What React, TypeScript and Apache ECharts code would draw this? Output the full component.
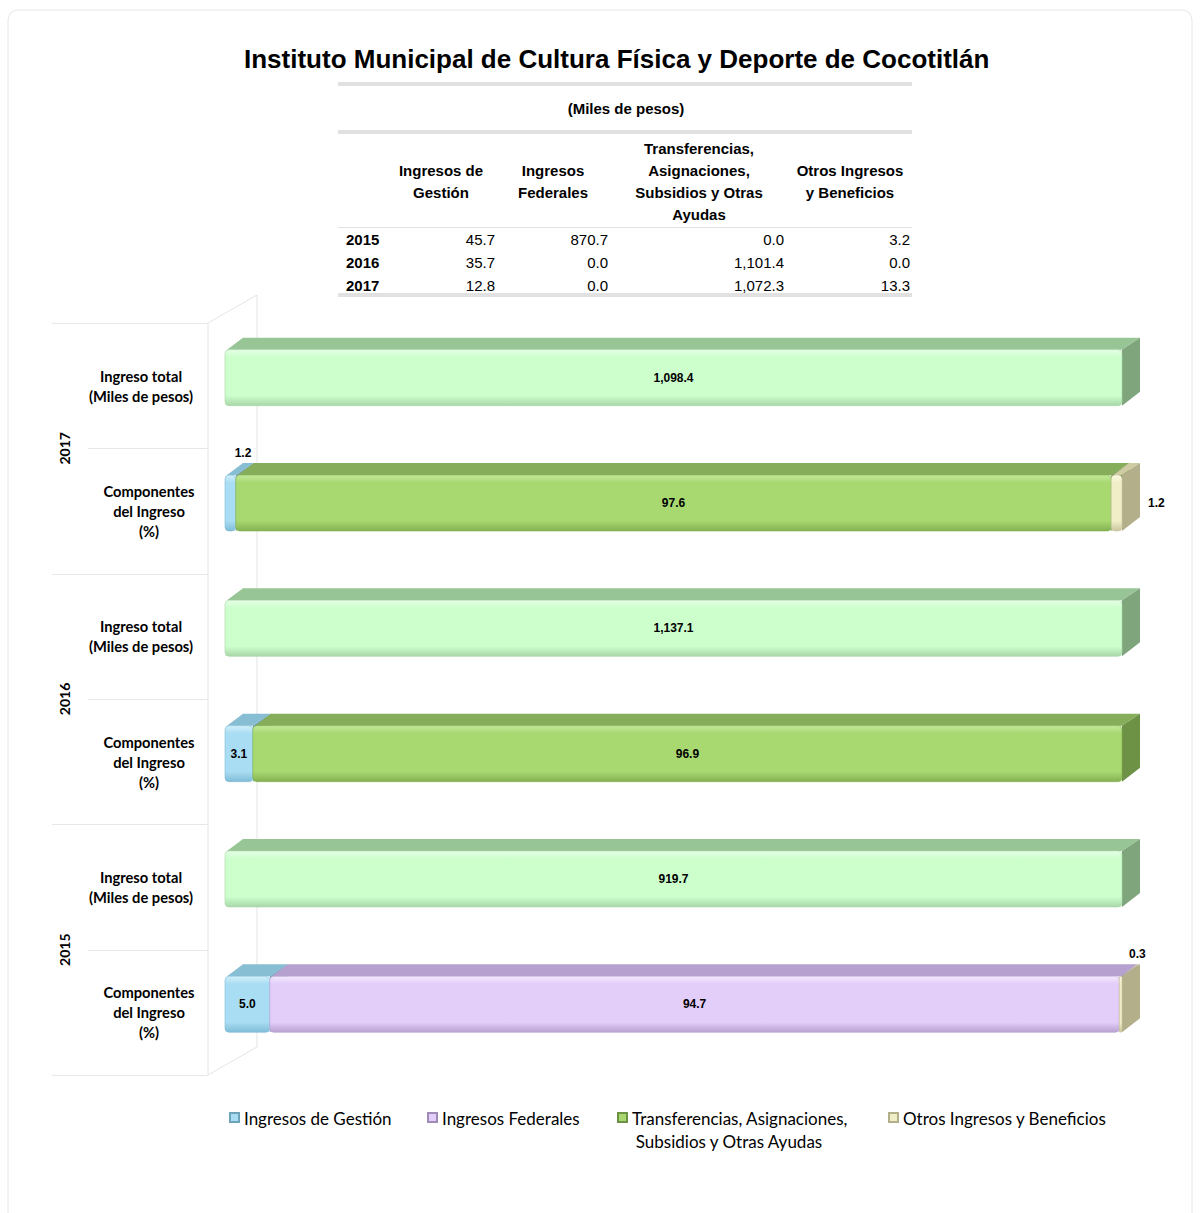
import React, { useEffect, useRef } from 'react';
import * as echarts from 'echarts';

// ---------- DATA ----------
const years = ['2017', '2016', '2015']; // top to bottom in the chart
const totalIncome = [1098.4, 1137.1, 919.7]; // Miles de pesos
const pctGestion = [1.2, 3.1, 5.0];
const pctFederales = [0.0, 0.0, 94.7];
const pctTransfer = [97.6, 96.9, 0.0];
const pctOtros = [1.2, 0.0, 0.3];

const rowLabelTotal = ['Ingreso total', '(Miles de pesos)'];
const rowLabelComp = ['Componentes', 'del Ingreso', '(%)'];

const tableYears = ['2015', '2016', '2017'];
const tblGestion = [45.7, 35.7, 12.8];
const tblFederales = [870.7, 0.0, 0.0];
const tblTransfer = [0.0, 1101.4, 1072.3];
const tblOtros = [3.2, 0.0, 13.3];
const tableHeaders = [
  'Ingresos de\nGestión',
  'Ingresos\nFederales',
  'Transferencias,\nAsignaciones,\nSubsidios y Otras\nAyudas',
  'Otros Ingresos\ny Beneficios',
];
const seriesNames = [
  'Ingresos de Gestión',
  'Ingresos Federales',
  'Transferencias, Asignaciones,\nSubsidios y Otras Ayudas',
  'Otros Ingresos y Beneficios',
];
const titleText = 'Instituto Municipal de Cultura Física y Deporte de Cocotitlán';
const unitText = '(Miles de pesos)';

// ---------- STYLE ----------
const GRID = { left: 225, top: 323, width: 897, height: 752 };
const DX = 18;
const DY = -12;

type Pal = { front: string; hi: string; lo: string; top: string; side: string };
const palTotal: Pal = { front: '#CCFFCC', hi: '#e6ffe6', lo: '#a9d6a9', top: '#98c595', side: '#7fa57c' };
const palettes: Pal[] = [
  { front: '#A9DDF3', hi: '#d2effa', lo: '#7fbcd6', top: '#88bed4', side: '#6ea3ba' },
  { front: '#E3CDF9', hi: '#f3e8fd', lo: '#b9a2d2', top: '#b5a0cf', side: '#9e8bb8' },
  { front: '#A8D870', hi: '#c3e99a', lo: '#83b152', top: '#86ad5a', side: '#6d9145' },
  { front: '#F0EEC6', hi: '#fbfae6', lo: '#c9c6a0', top: '#cfcca4', side: '#b2af8a' },
];
const compKeys = ['gestion', 'federales', 'transfer', 'otros'];
const smallLabelPlacement: Record<string, string> = {
  'gestion-2017': 'top',
  'otros-2017': 'right',
  'otros-2015': 'top',
};

const LABEL_FONT = { fontFamily: '"Liberation Sans", Arial, sans-serif', fontWeight: 'bold', fontSize: 12 };
const CAL_FONT = 'Lato, "Open Sans", sans-serif';
const ARIAL = '"Liberation Sans", Arial, sans-serif';

type Item = { start: number; end: number; row: number; text: string; place: string };

const fmt = (v: number) =>
  v.toLocaleString('en-US', { minimumFractionDigits: 1, maximumFractionDigits: 1 });

function makeRender(items: Item[], col: Pal) {
  return (params: any, api: any) => {
    const s = api.value(0);
    const e = api.value(1);
    const row = api.value(2);
    const a = api.coord([s, row]);
    const b = api.coord([e, row]);
    const band = api.size([0, 1])[1];
    const h = band * 0.447;
    const yc = a[1] - band * 0.064;
    const yT = yc - h / 2;
    const yB = yc + h / 2;
    const x0 = a[0];
    const x1 = b[0];
    const it = items[params.dataIndex];
    const grad = new echarts.graphic.LinearGradient(0, 0, 0, 1, [
      { offset: 0, color: col.hi },
      { offset: 0.14, color: col.front },
      { offset: 0.82, color: col.front },
      { offset: 1, color: col.lo },
    ]);
    const children: any[] = [
      {
        type: 'polygon',
        shape: { points: [[x0 + 2, yT], [x1, yT], [x1 + DX, yT + DY], [x0 + DX, yT + DY]] },
        style: { fill: col.top },
      },
      {
        type: 'polygon',
        shape: { points: [[x1, yT], [x1 + DX, yT + DY], [x1 + DX, yB + DY - 2], [x1, yB]] },
        style: { fill: col.side },
      },
      {
        type: 'rect',
        shape: { x: x0, y: yT, width: Math.max(x1 - x0, 1), height: h, r: 4 },
        style: { fill: grad, stroke: col.lo, lineWidth: 0.6 },
      },
    ];
    let tx = (x0 + x1) / 2;
    let ty = yc;
    let align = 'center';
    if (it.place === 'top') {
      tx = x0 + DX;
      ty = yT + DY - 10;
    } else if (it.place === 'right') {
      tx = x1 + DX + 8;
      align = 'left';
    }
    children.push({
      type: 'text',
      style: {
        text: it.text,
        x: tx,
        y: ty,
        align,
        verticalAlign: 'middle',
        fill: '#000',
        ...LABEL_FONT,
      },
    });
    return { type: 'group', children };
  };
}

function buildOption() {
  const categories = years.flatMap((y) => [y + '|total', y + '|comp']);

  const totalItems: Item[] = years.map((y, i) => ({
    start: 0,
    end: 100,
    row: 2 * i,
    text: fmt(totalIncome[i]),
    place: 'inside',
  }));

  const compValues = [pctGestion, pctFederales, pctTransfer, pctOtros];
  const compItems: Item[][] = compKeys.map(() => []);
  years.forEach((y, i) => {
    let acc = 0;
    compValues.forEach((vals, c) => {
      const v = vals[i];
      if (v > 0) {
        compItems[c].push({
          start: acc,
          end: acc + v,
          row: 2 * i + 1,
          text: v.toFixed(1),
          place: smallLabelPlacement[compKeys[c] + '-' + y] || 'inside',
        });
      }
      acc += v;
    });
  });

  const series: any[] = [];
  series.push({
    type: 'custom',
    name: 'Ingreso total',
    coordinateSystem: 'cartesian2d',
    encode: { x: [0, 1], y: 2 },
    data: totalItems.map((it) => [it.start, it.end, it.row]),
    renderItem: makeRender(totalItems, palTotal),
    clip: false,
  });
  compKeys.forEach((k, c) => {
    series.push({
      type: 'custom',
      name: seriesNames[c],
      coordinateSystem: 'cartesian2d',
      encode: { x: [0, 1], y: 2 },
      data: compItems[c].map((it) => [it.start, it.end, it.row]),
      renderItem: makeRender(compItems[c], palettes[c]),
      clip: false,
    });
  });

  // ----- graphics: frame, table, wall, year labels, legend -----
  const g: any[] = [];
  g.push({
    type: 'rect',
    shape: { x: 8, y: 10, width: 1184, height: 1220, r: 10 },
    style: { fill: 'none', stroke: '#e6e6e6', lineWidth: 1 },
    silent: true,
  });

  // table
  const tL = 338;
  const tR = 912;
  const dbl = (y: number) => {
    g.push({ type: 'line', shape: { x1: tL, y1: y, x2: tR, y2: y }, style: { stroke: '#c4c4c4', lineWidth: 1 } });
    g.push({ type: 'line', shape: { x1: tL, y1: y + 2, x2: tR, y2: y + 2 }, style: { stroke: '#c4c4c4', lineWidth: 1 } });
  };
  dbl(83);
  dbl(131);
  g.push({ type: 'line', shape: { x1: tL, y1: 227.5, x2: tR, y2: 227.5 }, style: { stroke: '#e2e2e2', lineWidth: 1 } });
  dbl(294);
  g.push({
    type: 'text',
    style: { text: unitText, x: 626, y: 108, align: 'center', verticalAlign: 'middle', fill: '#000', fontFamily: ARIAL, fontSize: 15, fontWeight: 'bold' },
  });
  const headX = [441, 553, 699, 850];
  const colRight = [495, 608, 784, 910];
  tableHeaders.forEach((t, i) => {
    g.push({
      type: 'text',
      style: {
        text: t,
        x: headX[i],
        y: 181,
        align: 'center',
        verticalAlign: 'middle',
        lineHeight: 22,
        fill: '#000',
        fontFamily: ARIAL,
        fontSize: 15,
        fontWeight: 'bold',
      },
    });
  });
  const tblCols = [tblGestion, tblFederales, tblTransfer, tblOtros];
  tableYears.forEach((y, r) => {
    const yy = 239 + r * 23;
    g.push({
      type: 'text',
      style: { text: y, x: 346, y: yy, align: 'left', verticalAlign: 'middle', fill: '#000', fontFamily: ARIAL, fontSize: 15, fontWeight: 'bold' },
    });
    tblCols.forEach((col, c) => {
      g.push({
        type: 'text',
        style: { text: fmt(col[r]), x: colRight[c], y: yy, align: 'right', verticalAlign: 'middle', fill: '#000', fontFamily: ARIAL, fontSize: 15 },
      });
    });
  });

  // 3D side wall and row separators
  const band = GRID.height / categories.length;
  const wallX = 208;
  const wallBack = 257;
  const wallColor = '#e4e4e4';
  const top = GRID.top;
  const bot = GRID.top + GRID.height;
  g.push({ type: 'line', shape: { x1: wallX, y1: top, x2: wallX, y2: bot }, style: { stroke: wallColor, lineWidth: 1 } });
  g.push({ type: 'line', shape: { x1: wallX, y1: top, x2: wallBack, y2: top - 28 }, style: { stroke: wallColor, lineWidth: 1 } });
  g.push({ type: 'line', shape: { x1: wallX, y1: bot, x2: wallBack, y2: bot - 28 }, style: { stroke: wallColor, lineWidth: 1 } });
  g.push({ type: 'line', shape: { x1: wallBack, y1: top - 28, x2: wallBack, y2: bot - 28 }, style: { stroke: wallColor, lineWidth: 1 } });
  for (let k = 0; k <= categories.length; k++) {
    const y = Math.round(top + k * band) + 0.5;
    const x1 = k % 2 === 0 ? 52 : 88;
    g.push({ type: 'line', shape: { x1, y1: y, x2: wallX, y2: y }, style: { stroke: '#e8e8e8', lineWidth: 1 } });
  }
  years.forEach((y, i) => {
    g.push({
      type: 'text',
      x: 64,
      y: top + (2 * i + 1) * band,
      rotation: Math.PI / 2,
      style: { text: y, align: 'center', verticalAlign: 'middle', fill: '#000', fontFamily: CAL_FONT, fontSize: 14, fontWeight: 'bold' },
    });
  });

  // legend
  const legX = [229, 427, 617, 888];
  seriesNames.forEach((name, i) => {
    const p = palettes[i];
    g.push({
      type: 'rect',
      shape: { x: legX[i] + 1, y: 1113, width: 9, height: 9 },
      style: { fill: p.front, stroke: p.side, lineWidth: 2 },
    });
    const lines = name.split('\n');
    g.push({
      type: 'text',
      style: { text: lines[0], x: legX[i] + 15, y: 1118, align: 'left', verticalAlign: 'middle', fill: '#000', fontFamily: CAL_FONT, fontSize: 17 },
    });
    if (lines[1]) {
      g.push({
        type: 'text',
        style: { text: lines[1], x: 729, y: 1141, align: 'center', verticalAlign: 'middle', fill: '#000', fontFamily: CAL_FONT, fontSize: 17 },
      });
    }
  });

  const richBase = { fontFamily: CAL_FONT, fontWeight: 'bold', fontSize: 14.7, lineHeight: 20, color: '#000' };

  return {
    animation: false,
    backgroundColor: '#ffffff',
    title: {
      text: titleText,
      left: 244,
      top: 46,
      padding: 0,
      textStyle: { fontFamily: ARIAL, fontSize: 26, fontWeight: 'bold', color: '#000' },
    },
    grid: { left: GRID.left, top: GRID.top, width: GRID.width, height: GRID.height },
    xAxis: { type: 'value', min: 0, max: 100, show: false },
    yAxis: {
      type: 'category',
      data: categories,
      inverse: true,
      axisLine: { show: false },
      axisTick: { show: false },
      splitLine: { show: false },
      axisLabel: {
        margin: 80,
        align: 'center',
        color: '#000',
        fontFamily: CAL_FONT,
        fontWeight: 'bold',
        fontSize: 14.7,
        lineHeight: 20,
        formatter: (v: string) =>
          v.endsWith('|total')
            ? rowLabelTotal.map((l) => `{t|${l}}`).join('\n')
            : rowLabelComp.map((l) => `{c|${l}}`).join('\n'),
        rich: {
          t: { ...richBase, padding: [0, 8, 0, 0] },
          c: { ...richBase, padding: [0, 0, 0, 8] },
        },
      },
    },
    series,
    graphic: g,
  };
}

export default function App() {
  const ref = useRef<HTMLDivElement>(null);
  useEffect(() => {
    document.body.style.margin = '0';
    const chart = echarts.init(ref.current!, null, { renderer: 'svg' });
    chart.setOption(buildOption() as any);
    return () => chart.dispose();
  }, []);
  return <div ref={ref} style={{ width: 1200, height: 1213 }} />;
}
